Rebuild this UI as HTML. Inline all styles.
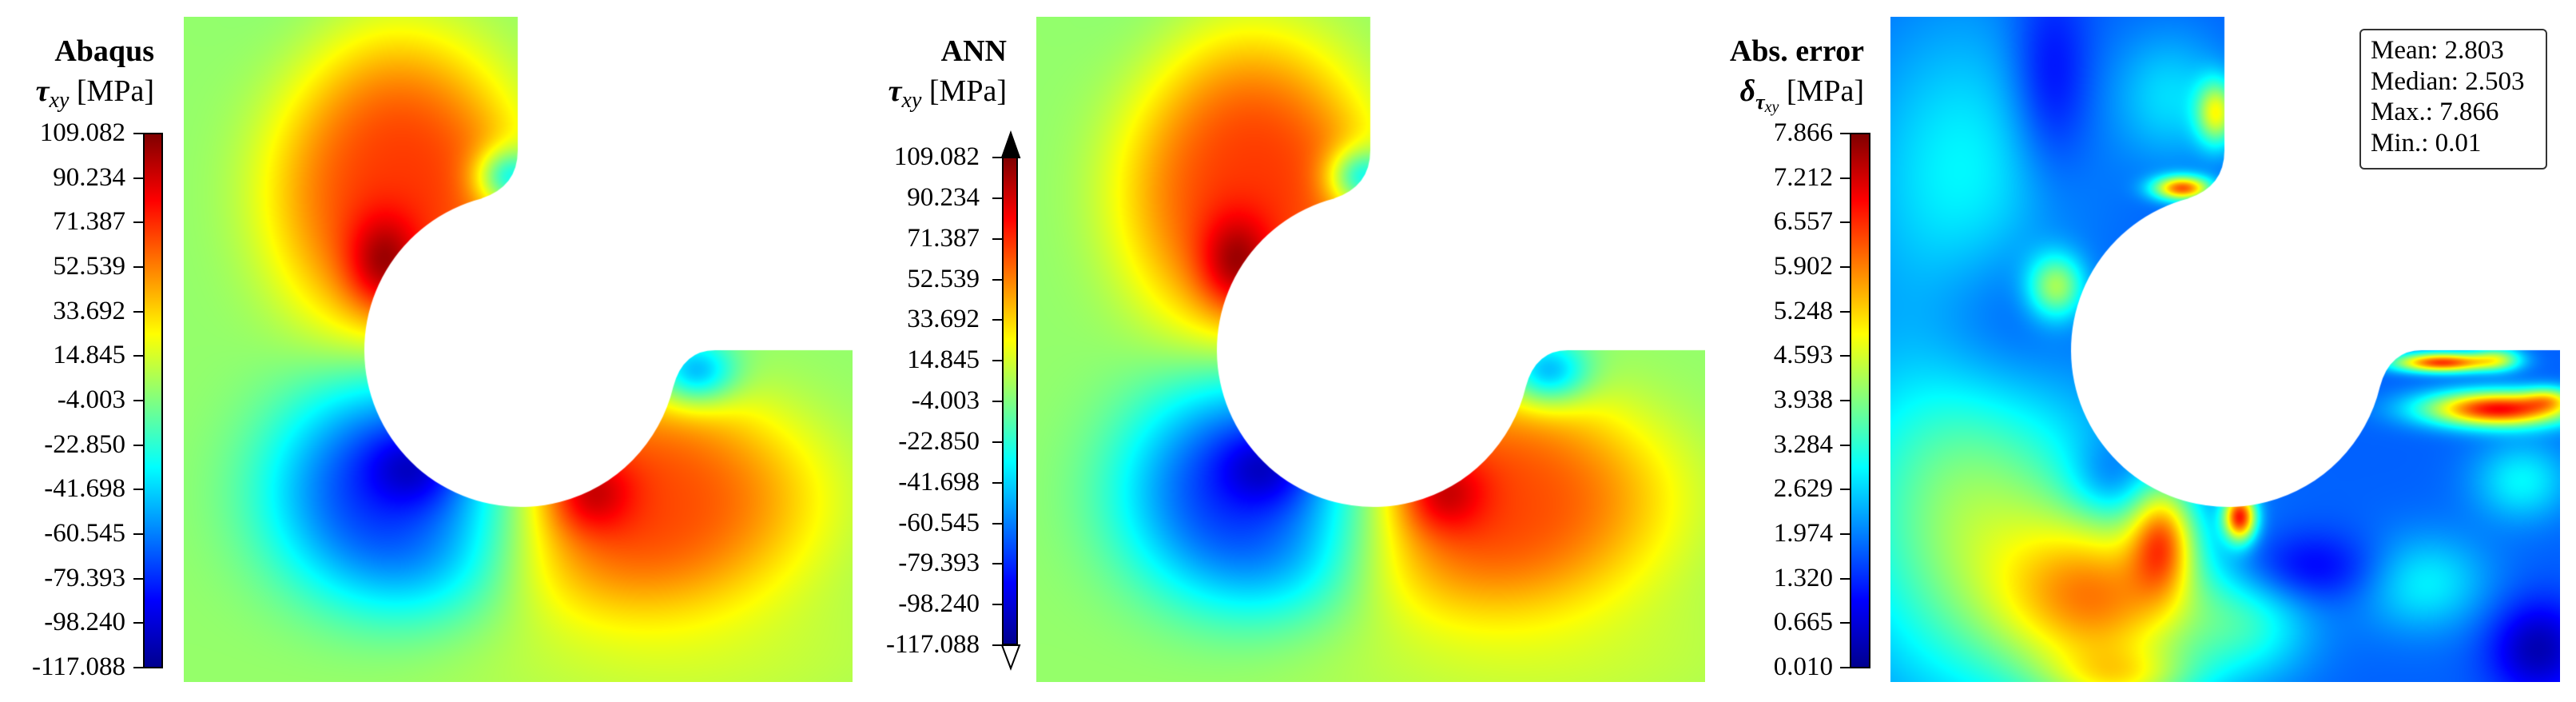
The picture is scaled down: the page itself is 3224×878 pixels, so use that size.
<!DOCTYPE html>
<html><head><meta charset="utf-8">
<style>
body{margin:0;width:3224px;height:878px;background:#fff;position:relative;overflow:hidden;font-family:"Liberation Serif",serif;color:#000}
.abs{position:absolute}
canvas{position:absolute}
.lbl{position:absolute;font-size:33px;line-height:33px;text-align:right;width:150px}
.title{position:absolute;font-size:38px;line-height:40px;text-align:right;white-space:nowrap}
.cbar{position:absolute;border:2px solid #000;box-sizing:border-box;background:linear-gradient(to top,#00008f 0%,#0000ff 12.5%,#0080ff 25%,#00ffff 37.5%,#80ff80 50%,#ffff00 62.5%,#ff8000 75%,#ff0000 87.5%,#800000 100%)}
.tick{position:absolute;height:2px;width:12px;background:#000}
.info{position:absolute;border:2px solid #333;border-radius:6px;font-size:33px;line-height:38.5px;padding:6px 12px;box-sizing:border-box}
</style></head><body>
<canvas id="c1" width="837" height="832" style="left:230px;top:21px"></canvas>
<canvas id="c2" width="837" height="832" style="left:1297px;top:21px"></canvas>
<canvas id="c3" width="838" height="832" style="left:2366px;top:21px"></canvas>

<div class="title" style="right:3031px;top:44px;font-weight:bold">Abaqus</div>
<div class="title" style="right:3031px;top:94px"><b><i>τ</i></b><i style="font-size:28px;position:relative;top:8px">xy</i> [MPa]</div>
<div class="title" style="right:1964px;top:44px;font-weight:bold">ANN</div>
<div class="title" style="right:1964px;top:94px"><b><i>τ</i></b><i style="font-size:28px;position:relative;top:8px">xy</i> [MPa]</div>
<div class="title" style="right:891px;top:44px;font-weight:bold">Abs. error</div>
<div class="title" style="right:891px;top:94px"><b><i>δ</i></b><span style="font-size:26px;position:relative;top:10px"><b><i>τ</i></b><i style="font-size:20px;position:relative;top:4px">xy</i></span> [MPa]</div>

<div class="cbar" style="left:179px;top:166px;width:25px;height:670px"></div>
<div class="cbar" style="left:1254px;top:196px;width:20px;height:611px"></div>
<svg class="abs" style="left:1250px;top:162px" width="30" height="680">
<polygon points="4,35 26,35 15,4" fill="#000" stroke="#000" stroke-width="2"/>
<polygon points="4,645 26,645 15,674" fill="#fff" stroke="#000" stroke-width="2"/>
</svg>
<div class="cbar" style="left:2315px;top:166px;width:26px;height:670px"></div>

<div class="info" style="left:2953px;top:36px;width:235px;height:176px">Mean: 2.803<br>Median: 2.503<br>Max.: 7.866<br>Min.: 0.01</div>

<div id="ticks"></div>
<script>
const tauTicks=["109.082","90.234","71.387","52.539","33.692","14.845","-4.003","-22.850","-41.698","-60.545","-79.393","-98.240","-117.088"];
const errTicks=["7.866","7.212","6.557","5.902","5.248","4.593","3.938","3.284","2.629","1.974","1.320","0.665","0.010"];
const tauBase=0.52;
const tauX=[265,250,280,290,565,505,405,640,620,150];
const tauY=[215,310,595,565,600,595,200,445,790,120];
const tauSX=[165,45,175,60,230,55,40,50,300,80];
const tauSY=[195,60,150,50,140,50,35,40,110,200];
const tauA=[0.30,0.18,-0.36,-0.14,0.28,0.17,-0.28,-0.26,0.06,-0.02];
const tauP=[1.6,1,1.4,1,1.5,1,1,1,1,1];
const errBase=0.22;
const errX=[90,200,350,408,365,130,207,100,270,340,437,270,290,520,666,810,690,760,824,790,760,450,600];
const errY=[200,80,100,120,214,390,337,620,730,650,625,580,830,690,707,790,432,490,477,580,427,760,300];
const errSX=[130,50,70,25,35,110,35,160,130,40,20,50,90,100,80,60,60,90,30,60,30,80,80];
const errSY=[200,120,80,40,15,120,40,220,110,70,30,50,40,45,60,60,12,22,15,50,15,70,80];
const errA=[0.15,-0.12,0.12,0.35,0.55,-0.12,0.3,0.3,0.45,0.35,0.6,-0.1,0.2,-0.12,0.15,-0.17,0.6,0.65,0.2,0.15,0.25,0.15,0.0];

function jet(t){t=Math.max(0,Math.min(1,t));const c=v=>Math.round(255*Math.max(0,Math.min(1,v)));
return [c(1.5-Math.abs(4*t-3)),c(1.5-Math.abs(4*t-2)),c(1.5-Math.abs(4*t-1))];}

function drawField(id,base,X,Y,SX,SY,A,P){
  const cv=document.getElementById(id),ctx=cv.getContext('2d'),W=cv.width,H=cv.height;
  const img=ctx.createImageData(W,H);
  for(let y=0;y<H;y++)for(let x=0;x<W;x++){
    let t=base;
    for(let i=0;i<X.length;i++){const dx=(x-X[i])/SX[i],dy=(y-Y[i])/SY[i];const d=dx*dx+dy*dy;
      t+=A[i]*Math.exp(-Math.pow(d,P?P[i]:1));}
    const c=jet(t),k=4*(y*W+x);img.data[k]=c[0];img.data[k+1]=c[1];img.data[k+2]=c[2];img.data[k+3]=255;}
  ctx.putImageData(img,0,0);
  ctx.globalCompositeOperation='destination-in';
  ctx.beginPath();
  const cx=422,cy=417,r=196;
  ctx.moveTo(0,0);ctx.lineTo(418,0);ctx.lineTo(418,167);
  ctx.quadraticCurveTo(418,212,373,227);
  const a1=Math.atan2(227-cy,373-cx),a2=Math.atan2(462-cy,610-cx);
  ctx.arc(cx,cy,r,a1,a2,true);
  ctx.quadraticCurveTo(625,417,665,417);
  ctx.lineTo(W,417);ctx.lineTo(W,H);ctx.lineTo(0,H);ctx.closePath();
  ctx.fill();
}
drawField('c1',tauBase,tauX,tauY,tauSX,tauSY,tauA,tauP);
drawField('c2',tauBase,tauX,tauY,tauSX,tauSY,tauA,tauP);
drawField('c3',errBase,errX,errY,errSX,errSY,errA,null);

const host=document.getElementById('ticks');
function axis(labels,barX,top,h,lblRight,name){
  labels.forEach((s,i)=>{
    const y=top+h*i/(labels.length-1);
    const tk=document.createElement('div');tk.className='tick';
    tk.style.left=(barX-12)+'px';tk.style.top=(y-1)+'px';
    
    
    host.appendChild(tk);
    const l=document.createElement('div');l.className='lbl';
    l.style.left=(lblRight-150)+'px';l.style.top=(y-17)+'px';l.textContent=s;
    
    
    host.appendChild(l);
  });
}
axis(tauTicks,179,167,668,157,'abaqus-colorbar');
axis(tauTicks,1254,197,610,1226,'ann-colorbar');
axis(errTicks,2315,167,668,2294,'error-colorbar');
</script>
</body></html>
